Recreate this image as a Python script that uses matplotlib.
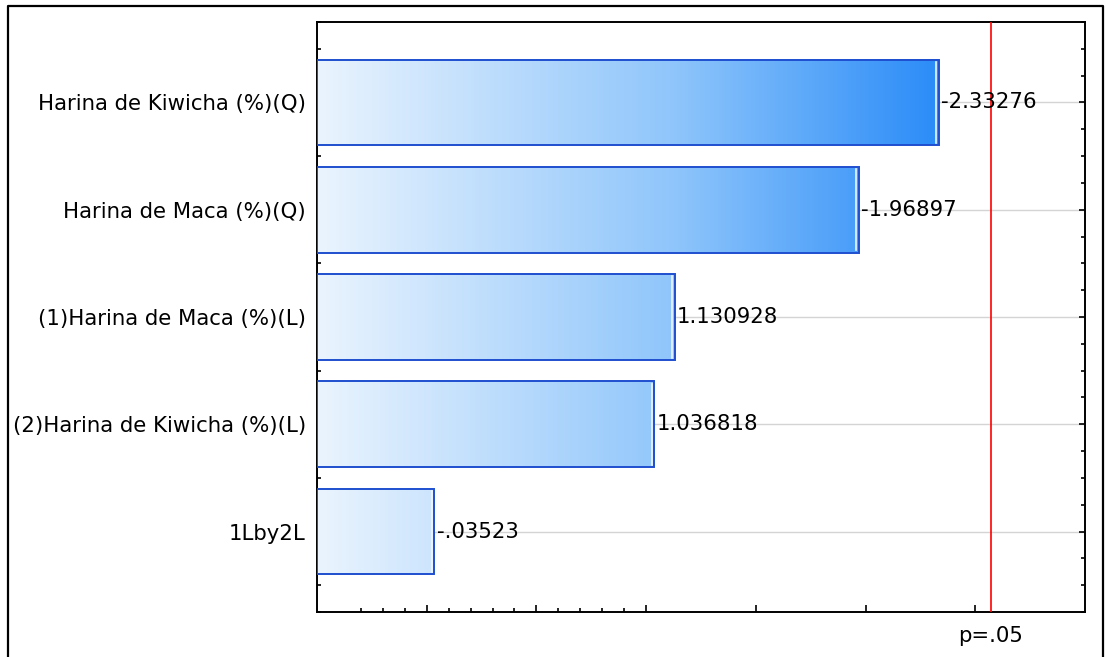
import numpy as np
import matplotlib
matplotlib.use("Agg")
import matplotlib.pyplot as plt
from matplotlib.colors import LinearSegmentedColormap
from matplotlib.lines import Line2D

# Standardized effect estimates (absolute value drawn, signed value printed)
effect_names = [
    "Harina de Kiwicha (%)(Q)",
    "Harina de Maca (%)(Q)",
    "(1)Harina de Maca (%)(L)",
    "(2)Harina de Kiwicha (%)(L)",
    "1Lby2L",
]
effect_values = [-2.33276, -1.96897, 1.130928, 1.036818, -0.03523]
effect_text = ["-2.33276", "-1.96897", "1.130928", "1.036818", "-.03523"]
p_critical = 2.5706  # t(0.975, df=5)
p_label = "p=.05"

major_x = [0.0, 0.5, 1.0, 1.5, 2.0, 2.5]
minor_x = [-0.3, -0.2, -0.1, 0.1, 0.2, 0.3, 0.4, 0.6, 0.7, 0.8, 0.9]

FONT = "DejaVu Sans"
FS = 15.3
XMIN, XMAX = -0.5, 3.0

fig = plt.figure(figsize=(11.08, 6.57), dpi=100)
ax = fig.add_axes([317 / 1108, 1 - 612 / 657, (1085 - 317) / 1108, (612 - 22) / 657])

cmap = LinearSegmentedColormap.from_list(
    "blues", [(0.0, "#eaf4fe"), (0.58, "#8ec5fb"), (1.0, "#2b8cf8")]
)
grad_end = max(abs(v) for v in effect_values)

bar_h = 0.8
for i, v in enumerate(effect_values):
    mag = abs(v)
    # horizontal gradient coloured by position along the axis
    xs = np.linspace(XMIN, mag, 256)
    frac = (xs - XMIN) / (grad_end - XMIN)
    ax.imshow(frac[np.newaxis, :], cmap=cmap, vmin=0, vmax=1, aspect="auto",
              extent=(XMIN, mag, i + bar_h / 2, i - bar_h / 2),
              interpolation="bilinear", zorder=2)
    ax.barh(i, mag - XMIN, left=XMIN, height=bar_h, facecolor="none",
            edgecolor="#1f4fcf", linewidth=1.4, zorder=3)
    # light inner highlight near the right edge
    ax.plot([mag - 0.012, mag - 0.012], [i - bar_h / 2 + 0.02, i + bar_h / 2 - 0.02],
            color="#eef6ff", linewidth=1.2, zorder=3)
    ax.text(mag + 0.01, i, effect_text[i], ha="left", va="center",
            fontsize=FS, family=FONT, color="black", zorder=5)

# horizontal guide lines at each effect
for i in range(len(effect_values)):
    ax.axhline(i, color="#d4d4d4", linewidth=1.0, zorder=1)

# significance threshold
ax.axvline(p_critical, color="#ff0000", linewidth=1.2, zorder=4)
ax.annotate(p_label, xy=(p_critical, 0), xycoords=("data", "axes fraction"),
            xytext=(0, -17), textcoords="offset points", ha="center", va="center",
            fontsize=FS, family=FONT, color="black", annotation_clip=False)

ax.set_xlim(XMIN, XMAX)
ax.set_ylim(len(effect_values) - 1 + 0.75, -0.75)

ax.set_yticks(range(len(effect_names)))
ax.set_yticklabels(effect_names, fontsize=FS, family=FONT)
ax.set_yticks(np.arange(-0.75, len(effect_values) - 0.25 + 0.01, 0.25), minor=True)
ax.set_xticks(major_x)
ax.set_xticklabels([])
ax.set_xticks(minor_x, minor=True)

ax.tick_params(axis="y", which="both", direction="in", left=True, right=True,
               width=1.2, pad=8)
ax.tick_params(axis="y", which="major", length=4)
ax.tick_params(axis="y", which="minor", length=3)
ax.tick_params(axis="x", which="both", direction="in", bottom=True, top=False, width=1.2)
ax.tick_params(axis="x", which="major", length=5)
ax.tick_params(axis="x", which="minor", length=3)

for s in ax.spines.values():
    s.set_linewidth(1.4)
    s.set_color("black")

# outer frame around the figure
fx0, fx1, fy1 = 8 / 1108, 1103 / 1108, 1 - 6 / 657
fig.add_artist(Line2D([fx0, fx0, fx1, fx1], [-0.01, fy1, fy1, -0.01],
                      transform=fig.transFigure, color="black", linewidth=1.6))

fig.savefig("out.png", dpi=100)
